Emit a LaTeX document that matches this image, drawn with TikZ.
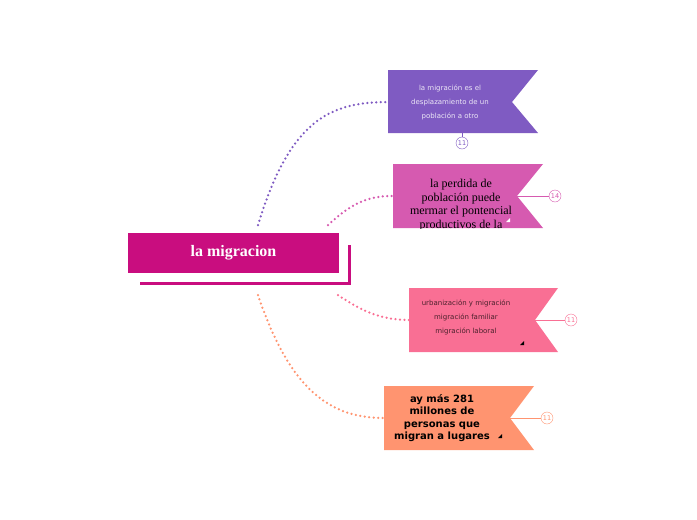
\documentclass[tikz,border=0pt]{standalone}
\usepackage{fontspec}
\setmainfont{Liberation Serif}
\newfontfamily\hand{DejaVu Sans}
\newfontfamily\bold{DejaVu Sans}
\begin{document}
\begin{tikzpicture}[x=1pt,y=-1pt,
  conn/.style={line width=2.5pt,dash pattern=on 0pt off 4.5pt,line cap=round,#1},
  badge/.style={circle,draw=#1,fill=white,inner sep=0pt,minimum size=12pt,text=#1,font=\hand\fontsize{6.5}{6.5}\selectfont}]
\definecolor{cmain}{HTML}{C90D7F}
\definecolor{cpur}{HTML}{7F5BC2}
\definecolor{cmag}{HTML}{D65AB0}
\definecolor{cpink}{HTML}{F96F94}
\definecolor{corg}{HTML}{FF9470}
\useasboundingbox (0,0) rectangle (697,520);
% connectors
\coordinate (c1) at (258,225); \coordinate (c2) at (328,225);
\coordinate (c3) at (338,295); \coordinate (c4) at (258,295);
\coordinate (e1) at (388,102); \coordinate (e2) at (393,196);
\coordinate (e3) at (409,320); \coordinate (e4) at (384,418);
\draw[conn=cpur] (c1) .. controls (290,120) and (330,102) .. (e1);
\draw[conn=cmag] (c2) .. controls (350,205) and (365,196) .. (e2);
\draw[conn=cpink] (c3) .. controls (360,310) and (380,320) .. (e3);
\draw[conn=corg] (c4) .. controls (290,390) and (330,418) .. (e4);
% main
\draw[cmain,line width=3pt] (140,283) -- (349,283) -- (349,245);
\node[fill=cmain,minimum width=211pt,minimum height=40pt,inner sep=0pt,text=white,font=\bfseries\fontsize{16}{16}\selectfont] (m) at (233.5,253) {la migracion};
% flags
\fill[cpur] (388,70) -- (538,70) -- (512,102) -- (538,133) -- (388,133) -- cycle;
\node[text=white!85!cpur,align=center,font=\hand\fontsize{7}{14}\selectfont] (n1) at (450,102) {la migración es el\\desplazamiento de un\\población a otro};
\draw[cpur] (462,133) -- (462,137);
\node[badge=cpur] (b1) at (462,143) {11};

\fill[cmag] (393,164) -- (543,164) -- (517,196) -- (543,228) -- (393,228) -- cycle;
\begin{scope}
\clip (393,164) rectangle (543,228);
\node[align=center,font=\fontsize{12}{13.5}\selectfont] (n2) at (461,205) {la perdida de\\población puede\\mermar el pontencial\\productivos de la};
\end{scope}
\fill[white] (510,218) -- (506,222) -- (510,222) -- cycle;
\node[badge=cmag] (b2) at (555,196) {14};
\draw[cmag] (517,196) -- (b2);

\fill[cpink] (409,288) -- (558,288) -- (535,320) -- (558,352) -- (409,352) -- cycle;
\node[text=black!70!cpink,align=center,font=\hand\fontsize{7}{14}\selectfont] (n3) at (466,317) {urbanización y migración\\migración familiar\\migración laboral};
\fill[black] (524,341) -- (520,345) -- (524,345) -- cycle;
\node[badge=cpink] (b3) at (571,320) {11};
\draw[cpink] (535,320) -- (b3);

\fill[corg] (384,386) -- (534,386) -- (510,418) -- (534,450) -- (384,450) -- cycle;
\node[align=center,font=\bold\bfseries\fontsize{10}{12.5}\selectfont] (n4) at (442,418) {ay más 281\\millones de\\personas que\\migran a lugares};
\fill[black] (502,434) -- (498,438) -- (502,438) -- cycle;
\node[badge=corg] (b4) at (547,418) {11};
\draw[corg] (510,418) -- (b4);
\end{tikzpicture}
\end{document}
